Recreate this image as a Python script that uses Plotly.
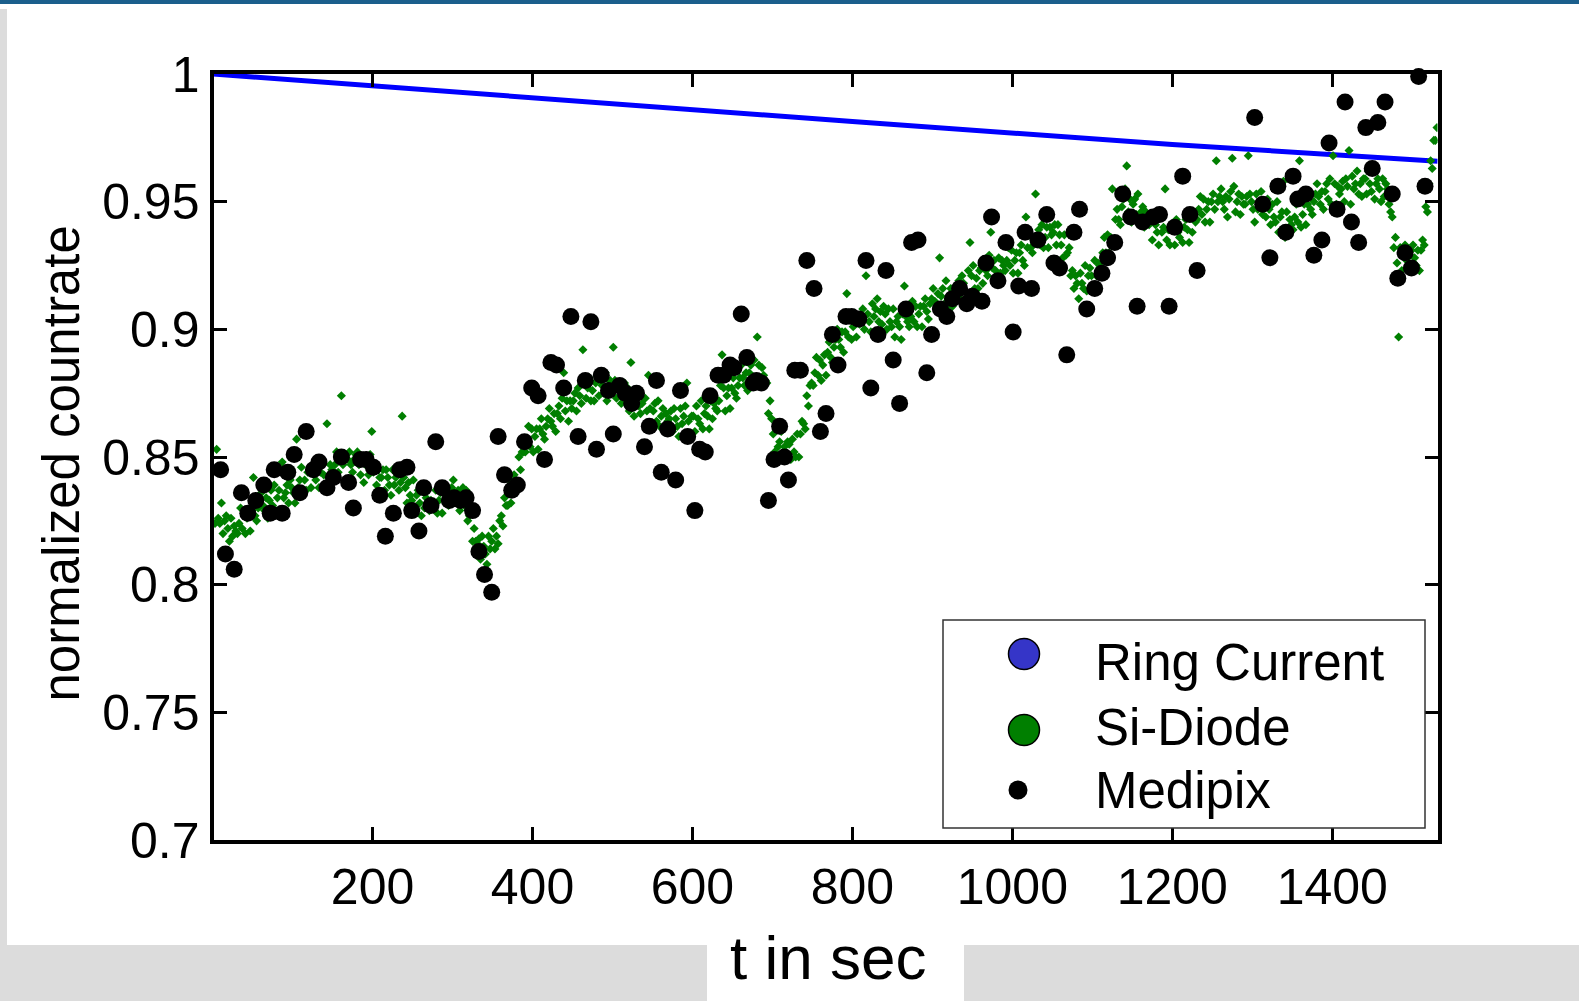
import plotly.graph_objects as go

W, H = 1579, 1001

# ---- data -------------------------------------------------------------
# Storage-ring current, normalised to the start value
ring_t = [0, 400, 800, 1200, 1532]
ring_v = [1.0, 0.9905, 0.9814, 0.9724, 0.9658]

# Si-Diode countrate, one reading every 2 s starting at t = 1 s (values in 1/1000),
# one row per 30 s
diode_t0, diode_dt = 1, 2
diode_milli = [
    830, 824, 853, 826, 824, 832, 820, 825, 827, 822, 817, 826, 819, 823, 821,
    820, 824, 830, 822, 829, 820, 826, 829, 821, 829, 842, 827, 825, 830, 833,
    836, 831, 829, 834, 826, 833, 837, 831, 839, 829, 834, 837, 829, 848, 834,
    836, 839, 832, 841, 838, 836, 832, 857, 838, 841, 846, 837, 841, 837, 844,
    844, 838, 847, 843, 841, 849, 838, 844, 847, 843, 838, 863, 842, 847, 845,
    843, 847, 852, 844, 851, 874, 847, 850, 841, 849, 852, 847, 844, 849, 851,
    852, 847, 843, 848, 840, 847, 849, 843, 851, 860, 844, 847, 839, 845, 842,
    842, 845, 837, 845, 842, 839, 835, 845, 839, 842, 846, 837, 840, 866, 842,
    838, 832, 840, 835, 833, 841, 829, 835, 837, 832, 827, 837, 830, 834, 832,
    829, 833, 857, 831, 837, 828, 833, 836, 828, 836, 839, 833, 831, 836, 838,
    841, 836, 833, 837, 829, 836, 838, 831, 837, 825, 827, 828, 817, 822, 817,
    816, 818, 810, 819, 815, 812, 808, 819, 814, 817, 822, 814, 819, 816, 825,
    827, 823, 834, 831, 831, 841, 832, 840, 843, 841, 838, 850, 845, 852, 852,
    852, 856, 862, 854, 861, 852, 858, 861, 853, 861, 865, 859, 857, 862, 865,
    869, 864, 862, 867, 860, 867, 870, 865, 873, 883, 868, 872, 864, 872, 869,
    872, 875, 868, 877, 874, 871, 892, 879, 873, 877, 881, 872, 876, 872, 879,
    880, 874, 883, 878, 875, 883, 872, 878, 880, 876, 893, 880, 873, 878, 876,
    871, 875, 879, 871, 877, 868, 887, 875, 866, 873, 876, 870, 867, 871, 873,
    873, 868, 882, 869, 861, 868, 871, 864, 872, 862, 866, 869, 860, 867, 864,
    865, 868, 860, 869, 865, 862, 858, 869, 863, 866, 870, 879, 864, 859, 866,
    866, 860, 870, 865, 863, 872, 861, 867, 870, 866, 861, 872, 865, 871, 869,
    868, 872, 878, 890, 877, 868, 874, 877, 869, 877, 881, 875, 873, 878, 881,
    886, 881, 878, 883, 876, 883, 886, 880, 888, 878, 897, 886, 878, 885, 882,
    880, 879, 867, 872, 865, 859, 852, 861, 854, 856, 860, 850, 854, 849, 856,
    855, 849, 857, 852, 850, 859, 850, 859, 864, 863, 861, 874, 870, 878, 879,
    878, 883, 889, 882, 888, 880, 886, 890, 882, 891, 895, 889, 887, 893, 896,
    900, 896, 893, 899, 891, 899, 914, 897, 906, 896, 901, 904, 897, 904, 902,
    905, 908, 900, 921, 906, 903, 899, 910, 905, 908, 912, 903, 907, 902, 909,
    906, 900, 908, 903, 901, 908, 897, 903, 905, 901, 896, 906, 917, 905, 903,
    901, 905, 911, 903, 909, 901, 906, 909, 901, 909, 912, 907, 904, 910, 912,
    916, 911, 908, 914, 928, 913, 916, 910, 919, 909, 913, 916, 909, 916, 913,
    916, 919, 912, 921, 918, 915, 912, 923, 934, 921, 925, 916, 920, 916, 923,
    924, 918, 927, 923, 921, 929, 938, 924, 927, 923, 918, 928, 922, 927, 925,
    923, 927, 932, 925, 931, 922, 927, 930, 922, 930, 933, 927, 925, 944, 932,
    937, 932, 930, 935, 953, 935, 939, 933, 941, 932, 936, 940, 932, 940, 937,
    938, 941, 933, 941, 937, 933, 928, 937, 929, 930, 932, 921, 923, 916, 921,
    918, 912, 922, 918, 916, 925, 915, 921, 924, 921, 916, 927, 921, 926, 925,
    924, 930, 936, 930, 937, 930, 936, 955, 933, 943, 947, 943, 941, 948, 951,
    955, 964, 946, 951, 942, 949, 951, 945, 953, 942, 946, 948, 940, 946, 943,
    941, 944, 935, 944, 941, 938, 933, 944, 938, 940, 955, 935, 939, 933, 940,
    939, 933, 943, 938, 936, 960, 934, 940, 943, 939, 934, 945, 938, 944, 942,
    943, 947, 952, 945, 951, 942, 947, 950, 942, 950, 953, 947, 966, 950, 952,
    955, 950, 947, 952, 944, 951, 954, 967, 956, 946, 950, 953, 945, 952, 949,
    949, 952, 968, 953, 950, 947, 942, 953, 947, 950, 954, 945, 949, 944, 951,
    947, 941, 949, 944, 942, 950, 938, 944, 946, 958, 936, 946, 939, 943, 941,
    939, 944, 949, 942, 966, 940, 945, 949, 941, 949, 953, 947, 945, 950, 953,
    957, 952, 949, 954, 947, 954, 957, 951, 959, 949, 968, 957, 949, 956, 953,
    955, 958, 950, 959, 956, 970, 949, 960, 955, 957, 962, 953, 957, 952, 959,
    959, 953, 962, 957, 954, 962, 951, 957, 959, 955, 950, 959, 952, 957, 955,
    949, 946, 944, 932, 936, 926, 897, 932, 923, 930, 933, 927, 924, 929, 931,
    933, 928, 925, 931, 923, 931, 935, 933, 948, 946, 957, 966, 963, 974, 974,
    979,
]
diode_t = [diode_t0 + diode_dt * i for i in range(len(diode_milli))]
diode_v = [m / 1000 for m in diode_milli]

# Medipix countrate (time in s, normalised value)
medipix_t = [
    10, 16, 27, 36, 44, 54, 64, 72, 77, 87, 94, 102, 109, 117, 126, 133, 143, 151,
    161, 170, 176, 185, 192, 201, 209, 216, 226, 234, 243, 249, 258, 264, 273, 279,
    287, 296, 302, 310, 317, 325, 333, 340, 349, 357, 365, 374, 381, 390, 399, 407,
    415, 423, 430, 439, 448, 457, 466, 473, 480, 486, 495, 501, 509, 516, 524, 530,
    540, 546, 555, 561, 569, 579, 585, 594, 603, 609, 616, 622, 632, 639, 647, 652,
    661, 668, 676, 680, 686, 695, 702, 709, 715, 720, 728, 735, 743, 752, 760, 767,
    775, 782, 792, 799, 808, 817, 823, 832, 842, 851, 859, 867, 874, 882, 893, 899,
    910, 918, 925, 934, 943, 950, 962, 967, 974, 982, 992, 1001, 1008, 1016, 1024,
    1032, 1043, 1052, 1059, 1068, 1077, 1084, 1093, 1103, 1112, 1119, 1128, 1138,
    1148, 1156, 1163, 1176, 1184, 1196, 1203, 1213, 1222, 1231, 1303, 1313, 1322,
    1332, 1342, 1351, 1357, 1367, 1377, 1387, 1396, 1406, 1416, 1424, 1433, 1442,
    1450, 1457, 1466, 1475, 1482, 1491, 1499, 1508, 1516,
]
medipix_v = [
    .845, .812, .806, .836, .828, .833, .839, .828, .845, .828, .844, .851, .836, .860, .845, .848, .838, .842,
    .850, .840, .830, .849, .849, .846, .835, .819, .828, .845, .846, .829, .821, .838, .831, .856,
    .838, .833, .834, .833, .834, .829, .813, .804, .797, .858, .843, .837, .839, .856, .877, .874,
    .849, .887, .886, .877, .905, .858, .880, .903, .853, .882, .876, .859, .878, .875, .871, .875,
    .854, .862, .880, .844, .861, .841, .876, .858, .829, .853, .852, .874, .882, .882, .886, .885,
    .906, .889, .879, .880, .879, .833, .849, .862, .850, .841, .884, .884, .927, .916, .860, .867,
    .898, .886, .905, .905, .904, .927, .877, .898, .923, .888, .871, .908, .934, .935, .883, .898,
    .908, .905, .912, .916, .910, .913, .911, .926, .944, .919, .934, .899, .917, .938, .916,
    .935, .945, .926, .924, .890, .938, .947, .908, .916, .922, .928, .934, .953,
    .944, .909, .942, .944, .945, .909, .940, .960, .945, .923, .983, .949, .928,
    .956, .938, .960, .951, .953, .929, .935, .973, .947, .989, .942, .934, .979,
    .963, .981, .989, .953, .920, .930, .924, .999, .956,
]

x_ticks = [200, 400, 600, 800, 1000, 1200, 1400]
y_ticks = [0.7, 0.75, 0.8, 0.85, 0.9, 0.95, 1.0]
y_tick_text = ["0.7", "0.75", "0.8", "0.85", "0.9", "0.95", "1"]

legend_names = ["Ring Current", "Si-Diode", "Medipix"]
legend_fill = ["#3535c8", "#007f00", "#000000"]

FONT = "Liberation Sans, Arial, Helvetica, sans-serif"


def px(x):
    return x / W


def py(y):
    return 1 - y / H


# ---- traces -----------------------------------------------------------
fig = go.Figure()
fig.add_trace(go.Scatter(x=ring_t, y=ring_v, mode="lines",
                         line=dict(color="#0000ff", width=5),
                         name=legend_names[0], showlegend=False))
fig.add_trace(go.Scatter(x=diode_t, y=diode_v, mode="markers",
                         marker=dict(symbol="diamond", size=7, color="#007f00",
                                     line=dict(width=0)),
                         name=legend_names[1], showlegend=False))
fig.add_trace(go.Scatter(x=medipix_t, y=medipix_v, mode="markers",
                         marker=dict(symbol="circle", size=17, color="#000000",
                                     line=dict(width=0)),
                         cliponaxis=False,
                         name=legend_names[2], showlegend=False))

# ---- axes -------------------------------------------------------------
plot_l, plot_r, plot_t, plot_b = 213.5, 1437.5, 74, 840
axis_common = dict(
    showline=True, linewidth=4, linecolor="black", mirror="ticks",
    ticks="inside", ticklen=13, tickwidth=3, tickcolor="black",
    showgrid=False, zeroline=False, automargin=False,
    tickfont=dict(family=FONT, size=50, color="black"),
)
fig.update_xaxes(range=[1.1, 1531.6], domain=[px(plot_l), px(plot_r)],
                 tickvals=x_ticks, ticktext=[str(v) for v in x_ticks], **axis_common)
fig.update_yaxes(range=[0.7, 1.0], domain=[py(plot_b), py(plot_t)],
                 tickvals=y_ticks, ticktext=y_tick_text, **axis_common)

shapes = []
annotations = []


def rect(x0, y0, x1, y1, fill, line=None, lw=0):
    shapes.append(dict(type="rect", xref="paper", yref="paper",
                       x0=px(x0), x1=px(x1), y0=py(y1), y1=py(y0),
                       fillcolor=fill, line=dict(color=line or fill, width=lw),
                       layer="above"))


def circle(cx, cy, d, fill, edge="black", lw=1.5):
    r = d / 2
    shapes.append(dict(type="circle", xref="paper", yref="paper",
                       x0=px(cx - r), x1=px(cx + r), y0=py(cy + r), y1=py(cy - r),
                       fillcolor=fill, line=dict(color=edge, width=lw), layer="above"))


# page frame: blue top rule, grey margins, white label box
rect(0, 0, W, 4, "#1b5f8c")
rect(0, 9, 7, 945, "#dcdcdc")
rect(0, 945, 707, H, "#dcdcdc")
rect(964, 945, W, H, "#dcdcdc")

# legend
rect(943, 620, 1425, 828, "white", line="#333333", lw=1.5)
circle(1024, 654, 31, legend_fill[0])
circle(1024, 730, 31, legend_fill[1])
circle(1018, 790, 19, legend_fill[2], edge="black", lw=0)
for name, cy in zip(legend_names, [662, 727, 790]):
    annotations.append(dict(text=name, xref="paper", yref="paper",
                            x=px(1093), y=py(cy), xanchor="left", yanchor="middle",
                            showarrow=False, font=dict(family=FONT, size=51, color="black")))

# axis titles
annotations.append(dict(text="normalized countrate", xref="paper", yref="paper",
                        x=px(60.5), y=py(464), textangle=-90,
                        xanchor="center", yanchor="middle", showarrow=False,
                        font=dict(family=FONT, size=51, color="black")))
annotations.append(dict(text="t in sec", xref="paper", yref="paper",
                        x=px(828), y=py(957), xanchor="center", yanchor="middle",
                        showarrow=False, font=dict(family=FONT, size=62, color="black")))

fig.update_layout(
    width=W, height=H, margin=dict(l=0, r=0, t=0, b=0),
    paper_bgcolor="white", plot_bgcolor="white",
    showlegend=False, shapes=shapes, annotations=annotations,
)

fig.write_html("out.html")
